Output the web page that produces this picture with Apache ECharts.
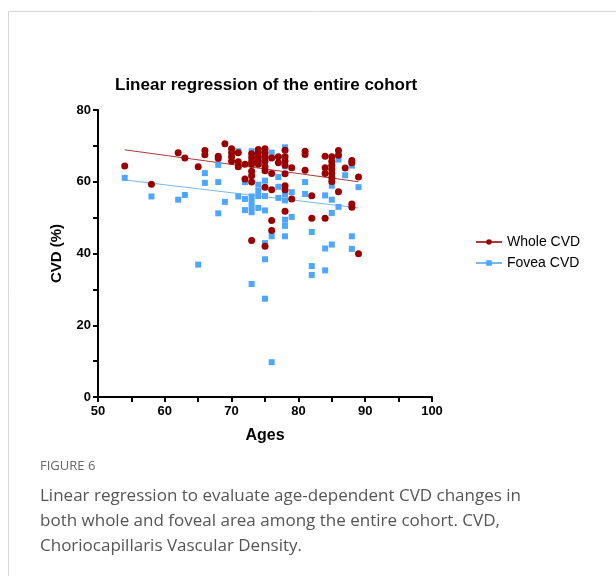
<!DOCTYPE html>
<html>
<head>
<meta charset="utf-8">
<script src="https://cdn.jsdelivr.net/npm/echarts@6/dist/echarts.min.js"></script>
<style>
  html, body { margin: 0; padding: 0; background: #fff; }
  #chart { width: 616px; height: 576px; }
</style>
</head>
<body>
<div id="chart"></div>
<script>
// values: [age, CVD %]
var wholeCVD = [
  [54, 64.4], [58, 59.3], [62, 68.1], [63, 66.6], [65, 64.2],
  [66, 68.7], [66, 67.5],
  [68, 67.1], [68, 66.5],
  [69, 70.6],
  [70, 69.2], [70, 68.1], [70, 67.0], [70, 65.7],
  [71, 68.1], [71, 65.6], [71, 64.2],
  [72, 64.9], [72, 60.8],
  [73, 67.8], [73, 66.7], [73, 65.6], [73, 64.9], [73, 62.9], [73, 61.7], [73, 59.9], [73, 43.6],
  [74, 69.0], [74, 68.1], [74, 67.0], [74, 65.9], [74, 64.9],
  [75, 69.2], [75, 68.1], [75, 67.0], [75, 65.7], [75, 64.2], [75, 63.1], [75, 58.5], [75, 42.0],
  [76, 66.6], [76, 62.3], [76, 57.8], [76, 49.2], [76, 46.4],
  [77, 67.0], [77, 65.3],
  [78, 68.8], [78, 67.0], [78, 65.8], [78, 64.6], [78, 62.2], [78, 58.9], [78, 57.8], [78, 51.8],
  [79, 63.9], [79, 55.2],
  [81, 68.5], [81, 67.6], [81, 63.2],
  [82, 56.1], [82, 49.8],
  [84, 67.1], [84, 63.9], [84, 62.3], [84, 49.8],
  [85, 67.0], [85, 65.7], [85, 64.6], [85, 63.4], [85, 62.3], [85, 61.1], [85, 60.1],
  [86, 68.7], [86, 67.4], [86, 57.2],
  [87, 63.8],
  [88, 65.9], [88, 65.3], [88, 53.8], [88, 52.9],
  [89, 61.3], [89, 39.9]
]

var foveaCVD = [
  [54, 61.1], [58, 55.9], [62, 55.0], [63, 56.3], [65, 36.9],
  [66, 62.4], [66, 59.7],
  [68, 64.7], [68, 59.9], [68, 51.2],
  [69, 54.4],
  [71, 68.5], [71, 64.3], [71, 55.9],
  [72, 59.9], [72, 55.2], [72, 52.1],
  [73, 68.5], [73, 55.9], [73, 54.5], [73, 53.0], [73, 51.5], [73, 31.5],
  [74, 59.2], [74, 57.5], [74, 56.0], [74, 52.7],
  [75, 60.3], [75, 56.0], [75, 52.0], [75, 42.9], [75, 38.4], [75, 27.4],
  [76, 68.1], [76, 44.8], [76, 9.7],
  [77, 61.3], [77, 58.6], [77, 55.5],
  [78, 69.6], [78, 64.3], [78, 56.5], [78, 54.8], [78, 49.4], [78, 47.7], [78, 44.8],
  [79, 57.1], [79, 50.2],
  [81, 59.9], [81, 56.6],
  [82, 46.0], [82, 36.5], [82, 34.0],
  [84, 56.2], [84, 41.4], [84, 35.3],
  [85, 58.9], [85, 55.0], [85, 51.3], [85, 42.5],
  [86, 66.2], [86, 53.0],
  [87, 61.8],
  [88, 64.5], [88, 44.8], [88, 41.3],
  [89, 58.5]
]

// fitted regression lines (end points)
var wholeFit = [[54, 68.9], [89, 60.0]]
var foveaFit = [[54, 60.5], [89, 52.7]]

var xTicks = [50, 60, 70, 80, 90, 100]
var yTicks = [0, 20, 40, 60, 80]

var red = '#990000'
var blue = '#4da6ff'
var axisFont = 'Liberation Sans, Arial, sans-serif'

var chart = echarts.init(document.getElementById('chart'))

var option = {
  animation: false,
  title: {
    text: 'Linear regression of the entire cohort',
    left: 110,
    top: 72,
    textStyle: { fontFamily: axisFont, fontSize: 17, fontWeight: 'bold', color: '#000' }
  },
  legend: {
    orient: 'vertical',
    left: 470,
    top: 230,
    itemWidth: 26,
    itemHeight: 7,
    itemGap: 7,
    data: ['Whole CVD', 'Fovea CVD'],
    textStyle: { fontFamily: axisFont, fontSize: 14, color: '#000' }
  },
  grid: { left: 98, right: 184, top: 110, bottom: 179 },
  xAxis: {
    type: 'value',
    min: xTicks[0],
    max: xTicks[xTicks.length - 1],
    interval: 10,
    name: 'Ages',
    nameLocation: 'middle',
    nameGap: 31,
    nameTextStyle: { fontFamily: axisFont, fontSize: 16, fontWeight: 'bold', color: '#000' },
    axisLine: { lineStyle: { color: '#000', width: 2 } },
    axisTick: { length: 5, lineStyle: { color: '#000', width: 2 } },
    minorTick: { show: true, splitNumber: 2, length: 5, lineStyle: { color: '#000', width: 2 } },
    axisLabel: { fontFamily: axisFont, fontSize: 13, fontWeight: 'bold', color: '#000', margin: 8 },
    splitLine: { show: false }
  },
  yAxis: {
    type: 'value',
    min: yTicks[0],
    max: yTicks[yTicks.length - 1],
    interval: 20,
    name: 'CVD (%)',
    nameLocation: 'middle',
    nameGap: 34,
    nameRotate: 90,
    nameTextStyle: { fontFamily: axisFont, fontSize: 15, fontWeight: 'bold', color: '#000' },
    axisLine: { show: true, lineStyle: { color: '#000', width: 2 } },
    axisTick: { show: true, length: 5, lineStyle: { color: '#000', width: 2 } },
    minorTick: { show: true, splitNumber: 2, length: 5, lineStyle: { color: '#000', width: 2 } },
    axisLabel: { fontFamily: axisFont, fontSize: 13, fontWeight: 'bold', color: '#000', margin: 7 },
    splitLine: { show: false }
  },
  series: [
    {
      name: 'Whole CVD',
      type: 'line',
      data: wholeFit,
      symbol: 'circle',
      symbolSize: 6,
      showSymbol: false,
      color: red,
      lineStyle: { color: '#a83a3a', width: 1 },
      z: 1
    },
    {
      name: 'Fovea CVD',
      type: 'line',
      data: foveaFit,
      symbol: 'rect',
      symbolSize: 6,
      showSymbol: false,
      color: blue,
      lineStyle: { color: '#79b8f0', width: 1 },
      z: 1
    },
    {
      name: 'Fovea CVD points',
      type: 'scatter',
      data: foveaCVD,
      symbol: 'rect',
      symbolSize: 6,
      itemStyle: { color: blue, opacity: 1 },
      z: 2
    },
    {
      name: 'Whole CVD points',
      type: 'scatter',
      data: wholeCVD,
      symbol: 'circle',
      symbolSize: 7,
      itemStyle: { color: red, opacity: 1 },
      z: 3
    }
  ],
  graphic: [
    {
      type: 'polyline',
      shape: { points: [[8.5, 576], [8.5, 11.5], [616, 11.5]] },
      style: { stroke: '#d6d6d6', lineWidth: 1, fill: null }
    },
    {
      type: 'text',
      left: 40,
      top: 460,
      style: { text: 'FIGURE 6', font: '13px "Open Sans", sans-serif', fill: '#666' }
    },
    {
      type: 'text',
      left: 40,
      top: 484,
      style: {
        text: 'Linear regression to evaluate age-dependent CVD changes in\nboth whole and foveal area among the entire cohort. CVD,\nChoriocapillaris Vascular Density.',
        font: '17px "Open Sans", sans-serif',
        lineHeight: 25,
        fill: '#555'
      }
    }
  ]
}

chart.setOption(option)
</script>
</body>
</html>
